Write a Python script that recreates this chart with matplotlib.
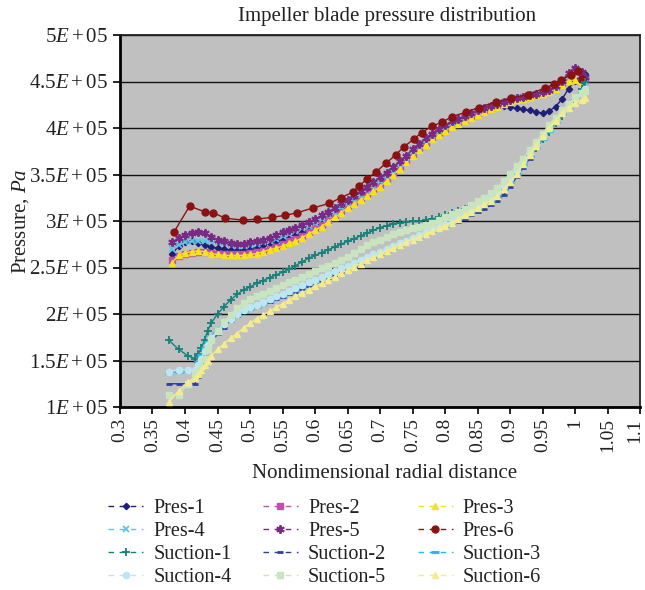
import matplotlib
matplotlib.use("Agg")
import matplotlib.pyplot as plt
import matplotlib.transforms as mtransforms
from matplotlib.lines import Line2D
import numpy as np

# ---------------- data ----------------
# Pressure-side radial positions (shared by Pres-1..Pres-5)
pres_x = [0.38, 0.39, 0.40, 0.41, 0.42, 0.43, 0.44, 0.45, 0.46, 0.47,
          0.48, 0.49, 0.50, 0.51, 0.52, 0.53, 0.54, 0.55, 0.56, 0.57,
          0.58, 0.59, 0.60, 0.61, 0.62, 0.63, 0.64, 0.65, 0.66, 0.67,
          0.68, 0.69, 0.70, 0.71, 0.72, 0.73, 0.74, 0.75, 0.76, 0.77,
          0.78, 0.79, 0.80, 0.81, 0.82, 0.83, 0.84, 0.85, 0.86, 0.87,
          0.88, 0.89, 0.90, 0.91, 0.92, 0.93, 0.94, 0.95, 0.96, 0.97,
          0.98, 0.99, 1.00, 1.01, 1.015]

# values in units of 1E+05 Pa
pres1 = [2.64, 2.73, 2.77, 2.78, 2.76, 2.74, 2.72, 2.71, 2.70, 2.69,
         2.69, 2.69, 2.70, 2.72, 2.74, 2.76, 2.78, 2.80, 2.83, 2.85,
         2.88, 2.91, 2.94, 2.98, 3.03, 3.08, 3.13, 3.18, 3.22, 3.27,
         3.31, 3.36, 3.41, 3.47, 3.53, 3.60, 3.67, 3.74, 3.80, 3.86,
         3.91, 3.96, 4.00, 4.04, 4.07, 4.11, 4.14, 4.17, 4.20, 4.22,
         4.24, 4.24, 4.23, 4.21, 4.20, 4.19, 4.17, 4.16, 4.18, 4.23,
         4.31, 4.42, 4.51, 4.56, 4.58]
pres2 = [2.58, 2.62, 2.64, 2.66, 2.67, 2.67, 2.66, 2.65, 2.64, 2.64,
         2.64, 2.65, 2.66, 2.67, 2.68, 2.70, 2.72, 2.75, 2.78, 2.81,
         2.84, 2.88, 2.92, 2.96, 3.01, 3.06, 3.11, 3.16, 3.20, 3.25,
         3.29, 3.34, 3.39, 3.45, 3.51, 3.58, 3.65, 3.72, 3.78, 3.84,
         3.90, 3.95, 3.99, 4.03, 4.06, 4.09, 4.13, 4.16, 4.19, 4.22,
         4.25, 4.28, 4.30, 4.32, 4.33, 4.35, 4.37, 4.39, 4.41, 4.44,
         4.48, 4.55, 4.61, 4.56, 4.52]
pres3 = [2.55, 2.63, 2.66, 2.67, 2.68, 2.67, 2.65, 2.64, 2.63, 2.63,
         2.63, 2.63, 2.64, 2.65, 2.67, 2.69, 2.71, 2.73, 2.76, 2.78,
         2.82, 2.86, 2.90, 2.94, 2.99, 3.04, 3.09, 3.14, 3.18, 3.23,
         3.27, 3.32, 3.37, 3.43, 3.49, 3.56, 3.63, 3.70, 3.76, 3.82,
         3.88, 3.93, 3.97, 4.01, 4.04, 4.07, 4.11, 4.14, 4.17, 4.20,
         4.23, 4.26, 4.28, 4.30, 4.31, 4.33, 4.35, 4.37, 4.39, 4.42,
         4.46, 4.51, 4.52, 4.45, 4.32]
pres4 = [2.70, 2.74, 2.77, 2.78, 2.79, 2.79, 2.78, 2.77, 2.76, 2.74,
         2.73, 2.73, 2.74, 2.75, 2.77, 2.79, 2.81, 2.84, 2.86, 2.89,
         2.92, 2.95, 2.98, 3.02, 3.06, 3.10, 3.15, 3.19, 3.24, 3.28,
         3.33, 3.38, 3.43, 3.48, 3.54, 3.61, 3.68, 3.75, 3.81, 3.87,
         3.92, 3.97, 4.01, 4.05, 4.08, 4.12, 4.15, 4.18, 4.21, 4.24,
         4.26, 4.28, 4.30, 4.32, 4.33, 4.35, 4.37, 4.39, 4.41, 4.44,
         4.49, 4.55, 4.60, 4.56, 4.50]
pres5 = [2.77, 2.82, 2.85, 2.87, 2.88, 2.87, 2.83, 2.80, 2.78, 2.76,
         2.75, 2.75, 2.77, 2.78, 2.80, 2.82, 2.85, 2.88, 2.90, 2.93,
         2.96, 2.99, 3.02, 3.06, 3.10, 3.14, 3.19, 3.23, 3.28, 3.32,
         3.37, 3.42, 3.47, 3.52, 3.58, 3.64, 3.70, 3.77, 3.83, 3.89,
         3.94, 3.99, 4.03, 4.07, 4.10, 4.13, 4.16, 4.19, 4.21, 4.24,
         4.26, 4.28, 4.30, 4.32, 4.33, 4.35, 4.37, 4.39, 4.41, 4.45,
         4.51, 4.59, 4.65, 4.60, 4.55]

pres6_x = [0.383, 0.407, 0.430, 0.443, 0.462, 0.489, 0.511, 0.534, 0.554, 0.573,
           0.597, 0.622, 0.640, 0.658, 0.668, 0.680, 0.694, 0.709, 0.724, 0.737,
           0.752, 0.764, 0.780, 0.795, 0.810, 0.832, 0.852, 0.878, 0.902, 0.928,
           0.954, 0.967, 0.979, 0.994, 1.005, 1.010]
pres6 = [2.88, 3.16, 3.10, 3.09, 3.03, 3.01, 3.02, 3.04, 3.06, 3.09,
         3.14, 3.19, 3.25, 3.31, 3.38, 3.45, 3.53, 3.62, 3.71, 3.80,
         3.88, 3.95, 4.02, 4.06, 4.12, 4.17, 4.22, 4.28, 4.32, 4.36,
         4.43, 4.47, 4.52, 4.57, 4.61, 4.53]

# Suction-side radial positions (shared by Suction-1..Suction-6)
suc_x = [0.375, 0.39, 0.405, 0.415, 0.42, 0.425, 0.43, 0.435, 0.44, 0.45,
         0.46, 0.47, 0.48, 0.49, 0.50, 0.51, 0.52, 0.53, 0.54, 0.55,
         0.56, 0.57, 0.58, 0.59, 0.60, 0.61, 0.62, 0.63, 0.64, 0.65,
         0.66, 0.67, 0.68, 0.69, 0.70, 0.71, 0.72, 0.73, 0.74, 0.75,
         0.76, 0.77, 0.78, 0.79, 0.80, 0.81, 0.82, 0.83, 0.84, 0.85,
         0.86, 0.87, 0.88, 0.89, 0.90, 0.91, 0.92, 0.93, 0.94, 0.95,
         0.96, 0.97, 0.98, 0.99, 1.00, 1.01, 1.015]

suc1 = [1.72, 1.62, 1.55, 1.52, 1.57, 1.63, 1.72, 1.82, 1.90, 2.00,
        2.08, 2.15, 2.21, 2.26, 2.29, 2.33, 2.36, 2.39, 2.42, 2.45,
        2.48, 2.52, 2.56, 2.60, 2.63, 2.66, 2.69, 2.72, 2.75, 2.78,
        2.81, 2.84, 2.87, 2.90, 2.93, 2.95, 2.97, 2.98, 2.99, 3.00,
        3.00, 3.01, 3.02, 3.04, 3.06, 3.09, 3.11, 3.13, 3.16, 3.19,
        3.22, 3.27, 3.32, 3.40, 3.47, 3.55, 3.62, 3.70, 3.79, 3.88,
        3.96, 4.05, 4.13, 4.22, 4.30, 4.42, 4.50]
suc2 = [1.25, 1.25, 1.25, 1.25, 1.32, 1.40, 1.50, 1.60, 1.70, 1.78,
        1.85, 1.93, 1.98, 2.02, 2.05, 2.08, 2.11, 2.13, 2.16, 2.18,
        2.21, 2.24, 2.27, 2.30, 2.33, 2.36, 2.39, 2.42, 2.45, 2.48,
        2.51, 2.54, 2.57, 2.60, 2.63, 2.66, 2.69, 2.72, 2.75, 2.78,
        2.81, 2.84, 2.87, 2.90, 2.93, 2.96, 2.99, 3.02, 3.06, 3.10,
        3.13, 3.17, 3.21, 3.28, 3.37, 3.47, 3.57, 3.67, 3.78, 3.88,
        3.98, 4.07, 4.15, 4.23, 4.31, 4.38, 4.42]
suc3 = [1.37, 1.38, 1.39, 1.40, 1.48, 1.56, 1.63, 1.70, 1.76, 1.84,
        1.90, 1.95, 1.99, 2.02, 2.05, 2.08, 2.11, 2.14, 2.17, 2.20,
        2.23, 2.26, 2.29, 2.32, 2.35, 2.38, 2.41, 2.44, 2.47, 2.50,
        2.53, 2.56, 2.59, 2.62, 2.65, 2.68, 2.71, 2.74, 2.77, 2.80,
        2.83, 2.86, 2.89, 2.92, 2.95, 2.98, 3.02, 3.06, 3.10, 3.14,
        3.18, 3.22, 3.27, 3.34, 3.42, 3.51, 3.60, 3.69, 3.78, 3.88,
        3.97, 4.06, 4.15, 4.23, 4.31, 4.38, 4.42]
suc4 = [1.38, 1.40, 1.40, 1.40, 1.45, 1.52, 1.60, 1.67, 1.74, 1.82,
        1.89, 1.95, 2.00, 2.04, 2.07, 2.10, 2.13, 2.16, 2.19, 2.22,
        2.25, 2.28, 2.31, 2.34, 2.37, 2.40, 2.43, 2.46, 2.49, 2.52,
        2.55, 2.58, 2.61, 2.64, 2.67, 2.70, 2.73, 2.76, 2.79, 2.82,
        2.85, 2.88, 2.91, 2.94, 2.97, 3.00, 3.04, 3.08, 3.12, 3.16,
        3.20, 3.25, 3.31, 3.38, 3.46, 3.55, 3.64, 3.73, 3.82, 3.91,
        4.00, 4.09, 4.17, 4.25, 4.32, 4.38, 4.42]
suc5 = [1.13, 1.13, 1.25, 1.34, 1.38, 1.43, 1.52, 1.62, 1.72, 1.82,
        1.91, 1.99, 2.06, 2.12, 2.16, 2.19, 2.22, 2.25, 2.28, 2.31,
        2.34, 2.37, 2.40, 2.43, 2.46, 2.49, 2.52, 2.55, 2.58, 2.61,
        2.66, 2.70, 2.74, 2.77, 2.80, 2.83, 2.86, 2.88, 2.90, 2.92,
        2.94, 2.96, 2.98, 3.01, 3.04, 3.07, 3.10, 3.13, 3.17, 3.21,
        3.25, 3.30, 3.36, 3.43, 3.51, 3.59, 3.67, 3.76, 3.85, 3.94,
        4.03, 4.11, 4.19, 4.26, 4.33, 4.38, 4.40]
suc6 = [1.05, 1.17, 1.27, 1.31, 1.35, 1.40, 1.45, 1.50, 1.55, 1.62,
        1.68, 1.74, 1.79, 1.85, 1.90, 1.95, 1.99, 2.03, 2.07, 2.11,
        2.15, 2.19, 2.23, 2.26, 2.30, 2.33, 2.37, 2.40, 2.44, 2.47,
        2.51, 2.54, 2.58, 2.61, 2.64, 2.68, 2.71, 2.74, 2.77, 2.80,
        2.83, 2.86, 2.89, 2.92, 2.95, 2.98, 3.02, 3.06, 3.10, 3.14,
        3.18, 3.22, 3.27, 3.34, 3.42, 3.51, 3.61, 3.71, 3.81, 3.91,
        4.00, 4.08, 4.16, 4.22, 4.27, 4.30, 4.32]

series_names = ["Pres-1", "Pres-2", "Pres-3", "Pres-4", "Pres-5", "Pres-6",
                "Suction-1", "Suction-2", "Suction-3", "Suction-4", "Suction-5", "Suction-6"]

x_ticks = [0.3, 0.35, 0.4, 0.45, 0.5, 0.55, 0.6, 0.65, 0.7, 0.75, 0.8,
           0.85, 0.9, 0.95, 1.0, 1.05, 1.1]
x_tick_labels = ["0.3", "0.35", "0.4", "0.45", "0.5", "0.55", "0.6", "0.65", "0.7",
                 "0.75", "0.8", "0.85", "0.9", "0.95", "1", "1.05", "1.1"]
y_ticks = [1.0e5, 1.5e5, 2.0e5, 2.5e5, 3.0e5, 3.5e5, 4.0e5, 4.5e5, 5.0e5]
y_tick_labels = [r"$1E+05$", r"$1.5E+05$", r"$2E+05$", r"$2.5E+05$", r"$3E+05$",
                 r"$3.5E+05$", r"$4E+05$", r"$4.5E+05$", r"$5E+05$"]

# ---------------- style ----------------
plt.rcParams["font.family"] = ["Liberation Serif", "DejaVu Serif"]
plt.rcParams["mathtext.fontset"] = "custom"
plt.rcParams["mathtext.rm"] = "Liberation Serif"
plt.rcParams["mathtext.it"] = "Liberation Serif:italic"

TXT = "#222222"
SCALE = 1e5
styles = [
    # (x, y, color, marker, ms, mew)
    (pres_x, pres1, "#1F1F7A", "D", 3.2, 1.0),
    (pres_x, pres2, "#C050AE", "s", 4.6, 1.0),
    (pres_x, pres3, "#F4E21E", "^", 5.0, 1.0),
    (pres_x, pres4, "#5CC6E2", "x", 4.5, 1.3),
    (pres_x, pres5, "#7A2A86", (6, 2, 0), 6.0, 1.4),
    (pres6_x, pres6, "#8A1212", "o", 5.0, 1.0),
    (suc_x, suc1, "#17807A", "+", 5.5, 1.3),
    (suc_x, suc2, "#2F3FA0", "_", 4.0, 2.0),
    (suc_x, suc3, "#2FB6EC", "_", 6.0, 2.2),
    (suc_x, suc4, "#BDE6F0", "o", 4.5, 1.0),
    (suc_x, suc5, "#C9E5C0", "s", 5.0, 1.0),
    (suc_x, suc6, "#F4EA8E", "^", 5.0, 1.0),
]

fig = plt.figure(figsize=(6.45, 5.9), dpi=100)
ax = fig.add_axes([120 / 645, 1 - 407 / 590, 520 / 645, 372 / 590])
ax.set_facecolor("#C0C0C0")

handles = []
for (xs, ys, col, mk, ms, mew), name in zip(styles, series_names):
    ax.plot(xs, np.array(ys) * SCALE, color=col, marker=mk, markersize=ms,
            markeredgewidth=mew, linewidth=1.0, markeredgecolor=col,
            markerfacecolor=col, zorder=3)
    handles.append(Line2D([], [], color=col, marker=mk, markersize=ms,
                          markeredgewidth=mew, linewidth=1.0,
                          linestyle=(0, (4, 4)), markeredgecolor=col,
                          markerfacecolor=col, label=name))

ax.set_xlim(0.3, 1.1)
ax.set_ylim(1.0e5, 5.0e5)
ax.set_xticks(x_ticks)
ax.set_xticklabels(x_tick_labels, rotation=90, fontsize=14, color=TXT)
ax.set_yticks(y_ticks)
ax.set_yticklabels(y_tick_labels, fontsize=15, color=TXT)
ax.tick_params(axis="both", direction="out", length=5, width=1.2, colors="black",
               labelcolor=TXT)
ax.tick_params(axis="x", pad=3)
ax.grid(axis="y", color="#111111", linewidth=1.0)
ax.set_axisbelow(True)
for side in ["left", "bottom"]:
    ax.spines[side].set_linewidth(2.0)
for side in ["top", "right"]:
    ax.spines[side].set_linewidth(1.3)
    ax.spines[side].set_color("#222222")

# keep the last tick label ("1.1") inside the figure edge
last_lab = ax.get_xticklabels()[-1]
last_lab.set_transform(last_lab.get_transform() +
                       mtransforms.ScaledTranslation(-5 / 100, 0, fig.dpi_scale_trans))

fig.text(387 / 645, 1 - 17 / 590, "Impeller blade pressure distribution",
         ha="center", va="center", fontsize=15, color=TXT)
fig.text(385 / 645, 1 - 474 / 590, "Nondimensional radial distance",
         ha="center", va="center", fontsize=15, color=TXT)
fig.text(21 / 645, 1 - 221 / 590, r"Pressure, $Pa$", rotation=90,
         ha="center", va="center", fontsize=15, color=TXT)

# legend: row-major appearance with 3 columns
order = [0, 3, 6, 9, 1, 4, 7, 10, 2, 5, 8, 11]
leg = fig.legend([handles[i] for i in order], [series_names[i] for i in order],
                 ncol=3, loc="upper left", bbox_to_anchor=(108 / 645, 1 - 499 / 590),
                 frameon=False, fontsize=14.5, handlelength=1.75, handletextpad=0.5,
                 columnspacing=1.55, labelspacing=0.2, borderpad=0, borderaxespad=0,
                 numpoints=1)
for t in leg.get_texts():
    t.set_color(TXT)

fig.savefig("out.png", dpi=100)
